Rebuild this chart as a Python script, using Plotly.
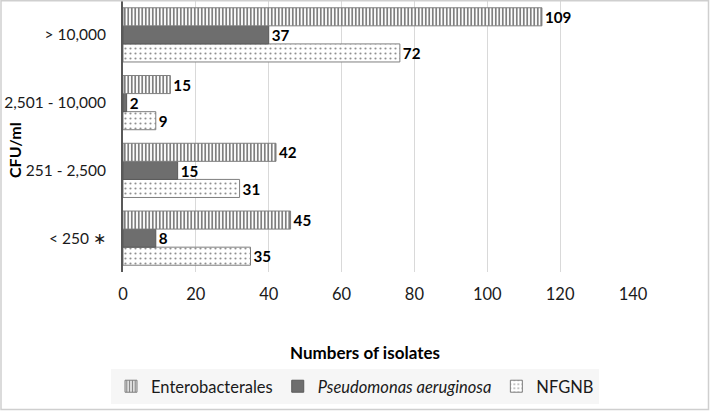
import plotly.graph_objects as go

categories = ["< 250 \u2217", "251 - 2,500", "2,501 - 10,000", "> 10,000"]

# bar lengths as drawn in the picture
entero_vals = [46, 42, 13, 115]
pseudo_vals = [9, 15, 1, 40]
nfgnb_vals = [35, 32, 9, 76]

# data labels as printed
entero_labels = ["45", "42", "15", "109"]
pseudo_labels = ["8", "15", "2", "37"]
nfgnb_labels = ["35", "31", "9", "72"]

x_ticks = [0, 20, 40, 60, 80, 100, 120, 140]

FONT = "Lato"
W, H = 710, 411
L, R, T, B = 123, 77, 1, 139
pw, ph = W - L - R, H - T - B


def px_x(p):
    return (p - L) / pw


def px_y(p):
    return (H - B - p) / ph


fig = go.Figure()

common = dict(orientation="h", textposition="outside", cliponaxis=False,
              textfont=dict(family=FONT, size=16, color="black", weight="bold"))

fig.add_trace(go.Bar(
    name="NFGNB", y=categories, x=nfgnb_vals, text=nfgnb_labels,
    marker=dict(color="white", line=dict(color="#7f7f7f", width=1),
                pattern=dict(shape=".", size=5, solidity=0.15,
                             fgcolor="#222222", bgcolor="white")),
    **common))
fig.add_trace(go.Bar(
    name="<i>Pseudomonas aeruginosa</i>", y=categories, x=pseudo_vals, text=pseudo_labels,
    marker=dict(color="#6e6e6e", line=dict(color="#5a5a5a", width=1)),
    **common))
fig.add_trace(go.Bar(
    name="Enterobacterales", y=categories, x=entero_vals, text=entero_labels,
    marker=dict(color="white", line=dict(color="#7f7f7f", width=1),
                pattern=dict(shape="|", size=3.5, solidity=0.5,
                             fgcolor="#000000", bgcolor="white")),
    **common))

fig.update_layout(
    width=W, height=H,
    margin=dict(l=L, r=R, t=T, b=B, autoexpand=False),
    paper_bgcolor="white", plot_bgcolor="white",
    barmode="group", bargap=0.2, bargroupgap=0,
    font=dict(family=FONT, size=16, color="#1a1a1a"),
    showlegend=True,
    legend=dict(orientation="h", traceorder="reversed",
                xref="container", yref="container",
                x=0.5, xanchor="center", y=1 - 369 / H, yanchor="top",
                bgcolor="#f6f6f6", font=dict(family=FONT, size=16.5, color="#1a1a1a"),
                itemclick=False),
    xaxis=dict(range=[0, 140], tickvals=x_ticks, showgrid=True,
               gridcolor="#d9d9d9", gridwidth=1, zeroline=False,
               showline=False, ticks="", ticklabelstandoff=10, automargin=False,
               tickfont=dict(family=FONT, size=16.5, color="#1a1a1a")),
    yaxis=dict(type="category", categoryorder="array", categoryarray=categories,
               showgrid=False, zeroline=False, showline=True,
               linecolor="#595959", linewidth=2, ticks="", automargin=False,
               ticklabelstandoff=12,
               tickfont=dict(family=FONT, size=15.5, color="#1a1a1a")),
    annotations=[
        dict(text="<b>Numbers of isolates</b>", xref="paper", yref="paper",
             x=px_x(365), y=px_y(352), xanchor="center", yanchor="middle",
             showarrow=False, font=dict(family=FONT, size=17, color="black")),
        dict(text="<b>CFU/ml</b>", xref="paper", yref="paper",
             x=px_x(14), y=px_y(150), xanchor="center", yanchor="middle",
             showarrow=False, textangle=-90,
             font=dict(family=FONT, size=16, color="black")),
    ],
    shapes=[
        dict(type="rect", xref="paper", yref="paper",
             x0=px_x(1), x1=px_x(708.5), y0=px_y(409.5), y1=px_y(0.8),
             line=dict(color="#cfcfcf", width=1.5), fillcolor="rgba(0,0,0,0)",
             layer="above"),
    ],
)

fig.write_html("out.html", config={"displayModeBar": False},
               post_script="document.body.style.margin='0';document.body.style.overflow='hidden';")
